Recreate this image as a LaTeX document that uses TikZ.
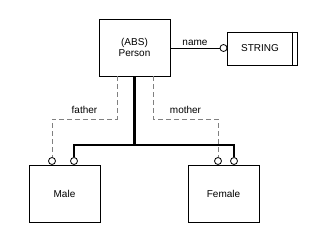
\documentclass[tikz,border=0pt]{standalone}
\usepackage{fontspec}
\setmainfont{Liberation Sans}
\usepackage{xcolor}
\usetikzlibrary{positioning, calc}
\definecolor{dashgray}{RGB}{128,128,128}

\begin{document}
\begin{tikzpicture}[x=1pt, y=-1pt, every node/.style={font=\fontsize{10}{11.5}\selectfont},
    entity/.style={draw, rectangle, line width=0.8pt, inner sep=0pt},
    endcirc/.style={draw, circle, line width=0.8pt, fill=white, minimum size=7pt, inner sep=0pt},
    relline/.style={dashgray, dashed, dash pattern=on 5pt off 3pt, line width=1pt},
    isaline/.style={line width=2.4pt}]
        \useasboundingbox (0,0) rectangle (320,233);
        % Entity boxes
        \node[entity, minimum width=71pt, minimum height=57pt, align=center] (person) at (134.5, 47.5) {(ABS)\\Person};
        \node[entity, minimum width=70pt, minimum height=33pt] (string) at (262, 48.5) {\hspace{-4pt}STRING};
        \draw[line width=0.8pt] ([xshift=-5pt]string.north east) -- ([xshift=-5pt]string.south east);
        \node[entity, minimum width=71pt, minimum height=57pt] (male) at (64.5, 193.5) {Male};
        \node[entity, minimum width=71pt, minimum height=57pt] (female) at (223.5, 193.5) {Female};

        % Circle ends
        \node[endcirc] (cname) at (223.5, 48) {};
        \node[endcirc] (cmf) at (52, 161) {};
        \node[endcirc] (cmi) at (74, 161) {};
        \node[endcirc] (cff) at (218, 161) {};
        \node[endcirc] (cfi) at (234, 161) {};

        % Attribute
        \draw[line width=0.8pt] (person.east |- cname) -- (cname.west) node[midway, above, inner sep=2pt] {name};

        % Relations
        \coordinate (fa) at ([xshift=-17.5pt]person.south);
        \coordinate (mo) at ([xshift=18.5pt]person.south);
        \coordinate (fbend) at (fa |- 0,119);
        \coordinate (mbend) at (mo |- 0,119);
        \draw[relline] (fa) -- (fbend) -| (cmf.north) node[pos=0.25, above, black, inner sep=5pt] {father};
        \draw[relline] (mo) -- (mbend) -| (cff.north) node[pos=0.25, above, black, inner sep=5pt] {mother};

        % Subtypes
        \coordinate (jn) at (person.south |- 0,145);
        \draw[isaline] (person.south) -- (jn);
        \draw[isaline] (cmi.north) |- (jn) -| (cfi.north);
    \end{tikzpicture}
\end{document}
